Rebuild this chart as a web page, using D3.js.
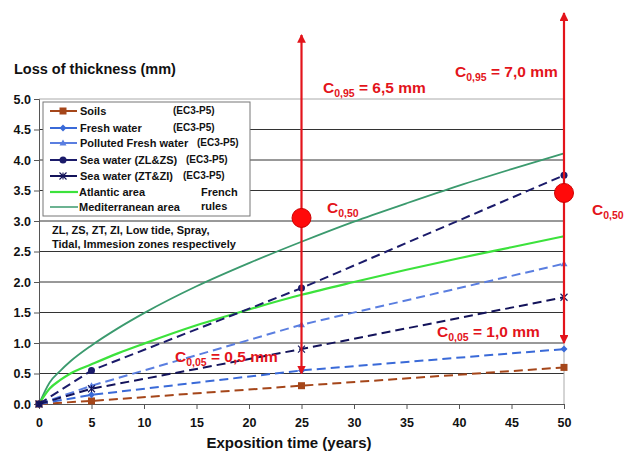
<!DOCTYPE html>
<html><head><meta charset="utf-8">
<script src="https://cdn.jsdelivr.net/npm/d3@7"></script>
<style>body{margin:0;background:#fff}text{font-family:Arial,"Liberation Sans",sans-serif;font-weight:bold}</style>
</head><body><svg id="c" width="637" height="453"></svg>
<script>
const years = [0, 5, 25, 50];
const soils = [0, 0.05, 0.3, 0.6];
const freshWater = [0, 0.15, 0.55, 0.9];
const pollutedFresh = [0, 0.3, 1.3, 2.3];
const seaZLZS = [0, 0.55, 1.9, 3.75];
const seaZTZI = [0, 0.25, 0.9, 1.75];
const curveYears = [0, 1, 2, 3, 5, 7.5, 10, 15, 20, 25, 30, 35, 40, 45, 50];
const atlantic = [0, 0.25, 0.39, 0.5, 0.65, 0.83, 0.99, 1.29, 1.55, 1.79, 2.0, 2.2, 2.39, 2.57, 2.75];
const mediterranean = [0, 0.35, 0.54, 0.7, 0.96, 1.24, 1.49, 1.93, 2.31, 2.66, 2.99, 3.29, 3.58, 3.85, 4.11];
const xTicks = [0, 5, 10, 15, 20, 25, 30, 35, 40, 45, 50];
const yTicks = [0, 0.5, 1, 1.5, 2, 2.5, 3, 3.5, 4, 4.5, 5];
// annotations: [year, bottom (C0,05), median (C0,50), top arrow]
const annYears = [25, 50];
const annLow = [0.5, 1.0];
const annMid = [3.05, 3.46];
const annTop = [6.05, 6.41];

const svg = d3.select("#c");
const x = d3.scaleLinear().domain([0, 50]).range([39, 564]);
const y = d3.scaleLinear().domain([0, 5]).range([404, 99]);
const red = "#e3141b";

// grid
svg.append("g").selectAll("line").data(yTicks.filter(d => d > 0)).join("line")
  .attr("x1", x(0)).attr("x2", x(50)).attr("y1", d => y(d)).attr("y2", d => y(d))
  .attr("stroke", d => d === 5 ? "#aaa" : "#333").attr("stroke-width", 1);
svg.append("line").attr("x1", x(50)).attr("x2", x(50)).attr("y1", y(5)).attr("y2", y(0)).attr("stroke", "#aaa");

// axes
const yAxis = svg.append("g").attr("transform", `translate(${x(0)},0)`)
  .call(d3.axisLeft(y).tickValues(yTicks).tickFormat(d3.format(".1f")).tickSize(5).tickPadding(3));
const xAxis = svg.append("g").attr("transform", `translate(0,${y(0)})`)
  .call(d3.axisBottom(x).tickValues(xTicks).tickSize(5).tickPadding(9));
[yAxis, xAxis].forEach(a => {
  a.select(".domain").attr("stroke", "#555");
  a.selectAll(".tick line").attr("stroke", "#555");
  a.selectAll("text").attr("font-size", 12.5).attr("font-weight", "bold").attr("fill", "#111")
    .attr("font-family", "Arial, 'Liberation Sans', sans-serif");
});

svg.append("text").attr("x", 14).attr("y", 74).attr("font-size", 14.5).attr("fill", "#111").text("Loss of thickness (mm)");
svg.append("text").attr("x", 289).attr("y", 448).attr("text-anchor", "middle").attr("font-size", 15).attr("fill", "#111").text("Exposition time (years)");

// curves
const line = d3.line().x(d => x(d[0])).y(d => y(d[1]));
const curve = d3.line().x(d => x(d[0])).y(d => y(d[1])).curve(d3.curveMonotoneX);
svg.append("path").attr("d", curve(curveYears.map((t, i) => [t, mediterranean[i]])))
  .attr("fill", "none").attr("stroke", "#3b9a6e").attr("stroke-width", 1.8);
svg.append("path").attr("d", curve(curveYears.map((t, i) => [t, atlantic[i]])))
  .attr("fill", "none").attr("stroke", "#3ce23c").attr("stroke-width", 2.2);

const series = [
  {name: "Soils", vals: soils, color: "#a5461a", marker: "square"},
  {name: "Fresh water", vals: freshWater, color: "#3a6ad8", marker: "diamond"},
  {name: "Polluted Fresh water", vals: pollutedFresh, color: "#5a7ee0", marker: "triangle"},
  {name: "Sea water (ZL&ZS)", vals: seaZLZS, color: "#1b1b6a", marker: "circle"},
  {name: "Sea water (ZT&ZI)", vals: seaZTZI, color: "#13135a", marker: "x"}
];
function drawMarker(g, type, cx, cy, color) {
  if (type === "square") g.append("rect").attr("x", cx - 3.5).attr("y", cy - 3.5).attr("width", 7).attr("height", 7).attr("fill", color);
  else if (type === "diamond") g.append("path").attr("d", `M${cx},${cy-3.5}L${cx+3.5},${cy}L${cx},${cy+3.5}L${cx-3.5},${cy}Z`).attr("fill", color);
  else if (type === "triangle") g.append("path").attr("d", `M${cx},${cy-3.5}L${cx+3.5},${cy+2.5}L${cx-3.5},${cy+2.5}Z`).attr("fill", color);
  else if (type === "circle") g.append("circle").attr("cx", cx).attr("cy", cy).attr("r", 3.5).attr("fill", color);
  else {
    g.append("path").attr("d", `M${cx-3.5},${cy-3.5}L${cx+3.5},${cy+3.5}M${cx-3.5},${cy+3.5}L${cx+3.5},${cy-3.5}M${cx},${cy-3.5}L${cx},${cy+3.5}`).attr("stroke", color).attr("stroke-width", 1.1);
  }
}
series.forEach(s => {
  svg.append("path").attr("d", line(years.map((t, i) => [t, s.vals[i]])))
    .attr("fill", "none").attr("stroke", s.color).attr("stroke-width", 2).attr("stroke-dasharray", "9,5");
  const g = svg.append("g");
  years.forEach((t, i) => drawMarker(g, s.marker, x(t), y(s.vals[i]), s.color));
});

// red annotations
svg.append("defs").append("marker").attr("id", "ah").attr("viewBox", "0 0 10 10").attr("refX", 9).attr("refY", 5)
  .attr("markerWidth", 4).attr("markerHeight", 4).attr("orient", "auto-start-reverse")
  .append("path").attr("d", "M0,0L10,5L0,10Z").attr("fill", red);
annYears.forEach((t, i) => {
  svg.append("line").attr("x1", x(t)).attr("x2", x(t)).attr("y1", y(annLow[i])).attr("y2", y(annTop[i]))
    .attr("stroke", red).attr("stroke-width", 2.2).attr("marker-start", "url(#ah)").attr("marker-end", "url(#ah)");
  svg.append("circle").attr("cx", x(t)).attr("cy", y(annMid[i])).attr("r", 9.5).attr("fill", "#ff0a0a").attr("stroke", "#c00").attr("stroke-width", 1);
});
function cLabel(px, py, sub, rest) {
  const t = svg.append("text").attr("x", px).attr("y", py).attr("fill", red).attr("font-size", 15.5);
  t.append("tspan").text("C");
  t.append("tspan").attr("font-size", 10.5).attr("dy", 4).text(sub);
  if (rest) t.append("tspan").attr("dy", -4).text(rest);
}
cLabel(323, 93, "0,95", " = 6,5 mm");
cLabel(455, 77, "0,95", " = 7,0 mm");
cLabel(327, 213, "0,50", "");
cLabel(592, 215, "0,50", "");
cLabel(175, 362, "0,05", " = 0,5 mm");
cLabel(437, 337, "0,05", " = 1,0 mm");

// legend
const lg = svg.append("g");
lg.append("rect").attr("x", 43).attr("y", 102).attr("width", 207).attr("height", 114).attr("fill", "#fff").attr("stroke", "#777");
const legendRows = [
  {label: "Soils", ec: 173, y: 111, s: series[0]},
  {label: "Fresh water", ec: 173, y: 128, s: series[1]},
  {label: "Polluted Fresh water", ec: 197, y: 143, s: series[2]},
  {label: "Sea water (ZL&ZS)", ec: 186, y: 160, s: series[3]},
  {label: "Sea water (ZT&ZI)", ec: 183, y: 176, s: series[4]},
  {label: "Atlantic area", y: 193, color: "#3ce23c", w: 2.2},
  {label: "Mediterranean area", y: 208, color: "#3b9a6e", w: 1.5}
];
legendRows.forEach(r => {
  if (r.s) {
    lg.append("line").attr("x1", 50).attr("x2", 77).attr("y1", r.y).attr("y2", r.y).attr("stroke", r.s.color).attr("stroke-width", 2);
    drawMarker(lg, r.s.marker, 63, r.y, r.s.color);
    lg.append("text").attr("x", 80).attr("y", r.y + 4).attr("font-size", 11).attr("fill", "#111").text(r.label);
    lg.append("text").attr("x", r.ec).attr("y", r.y + 3).attr("font-size", 10).attr("fill", "#111").text("(EC3-P5)");
  } else {
    lg.append("line").attr("x1", 50).attr("x2", 78).attr("y1", r.y - 1).attr("y2", r.y - 1).attr("stroke", r.color).attr("stroke-width", r.w);
    lg.append("text").attr("x", 79).attr("y", r.y + 3).attr("font-size", 11).attr("fill", "#111").text(r.label);
  }
});
lg.append("text").attr("x", 201).attr("y", 196).attr("font-size", 11).attr("fill", "#111").text("French");
lg.append("text").attr("x", 201).attr("y", 210).attr("font-size", 11).attr("fill", "#111").text("rules");
svg.append("text").attr("x", 52).attr("y", 234).attr("font-size", 11).attr("fill", "#111").text("ZL, ZS, ZT, ZI, Low tide, Spray,");
svg.append("text").attr("x", 52).attr("y", 248).attr("font-size", 11).attr("fill", "#111").text("Tidal, Immesion zones respectively");
</script></body></html>
